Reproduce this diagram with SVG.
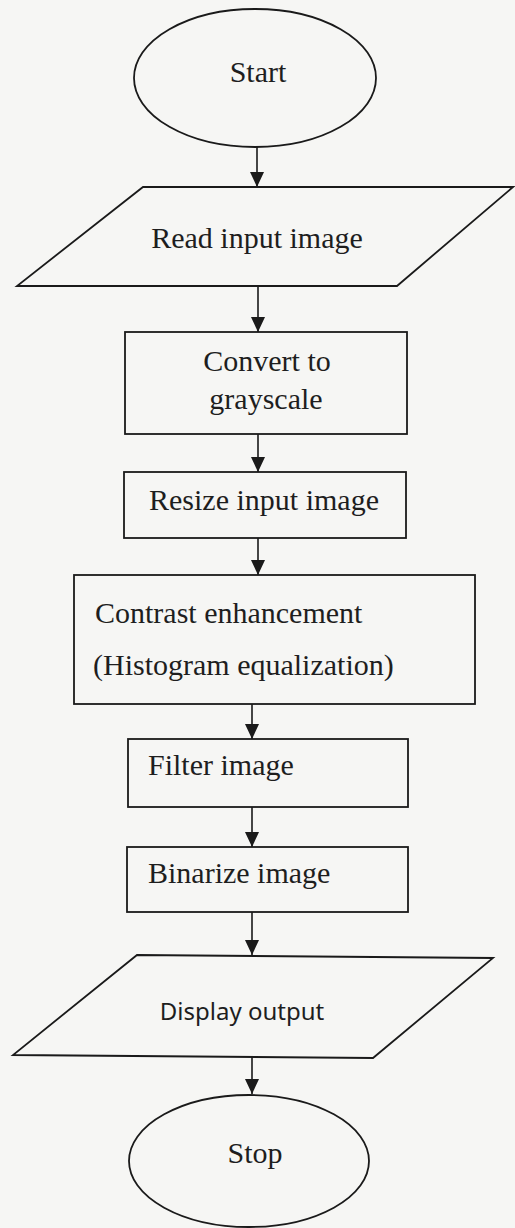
<svg xmlns="http://www.w3.org/2000/svg" width="515" height="1228" viewBox="0 0 515 1228">
<style>
.shape{fill:none;stroke:#1a1a1a;stroke-width:1.8}
.t{font-family:"Liberation Serif","Times New Roman",serif;font-size:30px;fill:#1e1e1e}
.s{font-family:"Noto Sans","Open Sans",sans-serif;font-size:24px;fill:#1e1e1e}
.c{text-anchor:middle}
.conn line{stroke:#1a1a1a;stroke-width:1.6}
</style>
<defs>
<marker id="ah" markerUnits="userSpaceOnUse" markerWidth="16" markerHeight="14" viewBox="0 0 16 14" refX="15" refY="7" orient="auto">
<path d="M0,0 L15,7 L0,14 Z" fill="#1a1a1a"/>
</marker>
</defs>
<rect width="515" height="1228" fill="#f6f6f4"/>
<g class="conn">
<line x1="257" y1="147" x2="257" y2="187" marker-end="url(#ah)"/>
<line x1="258" y1="286" x2="258" y2="332" marker-end="url(#ah)"/>
<line x1="258" y1="434" x2="258" y2="472" marker-end="url(#ah)"/>
<line x1="258" y1="538" x2="258" y2="575" marker-end="url(#ah)"/>
<line x1="252" y1="704" x2="252" y2="739" marker-end="url(#ah)"/>
<line x1="252" y1="807" x2="252" y2="847" marker-end="url(#ah)"/>
<line x1="252" y1="912" x2="252" y2="955" marker-end="url(#ah)"/>
<line x1="252" y1="1057" x2="252" y2="1094" marker-end="url(#ah)"/>
</g>
<g id="start">
<ellipse class="shape" cx="255" cy="78" rx="121" ry="69"/>
<text class="t c" x="258" y="82">Start</text>
</g>
<g id="read">
<polygon class="shape" points="143,187 513,187 397,286 17,286"/>
<text class="t c" x="257" y="248">Read input image</text>
</g>
<g id="gray">
<rect class="shape" x="125" y="332" width="282" height="102"/>
<text class="t c" x="267" y="371">Convert to</text>
<text class="t c" x="266" y="409">grayscale</text>
</g>
<g id="resize">
<rect class="shape" x="124" y="472" width="282" height="66"/>
<text class="t c" x="264" y="510">Resize input image</text>
</g>
<g id="contrast">
<rect class="shape" x="74" y="575" width="401" height="129"/>
<text class="t" x="95" y="623">Contrast enhancement</text>
<text class="t" x="93" y="675">(Histogram equalization)</text>
</g>
<g id="filter">
<rect class="shape" x="128" y="739" width="280" height="68"/>
<text class="t" x="148" y="775">Filter image</text>
</g>
<g id="binarize">
<rect class="shape" x="127" y="847" width="281" height="65"/>
<text class="t" x="148" y="883">Binarize image</text>
</g>
<g id="display">
<polygon class="shape" points="137,955 493,958 373,1058 13,1055"/>
<text class="s c" x="242" y="1020">Display output</text>
</g>
<g id="stop">
<ellipse class="shape" cx="249" cy="1161" rx="120" ry="66"/>
<text class="t c" x="255" y="1163">Stop</text>
</g>
</svg>
